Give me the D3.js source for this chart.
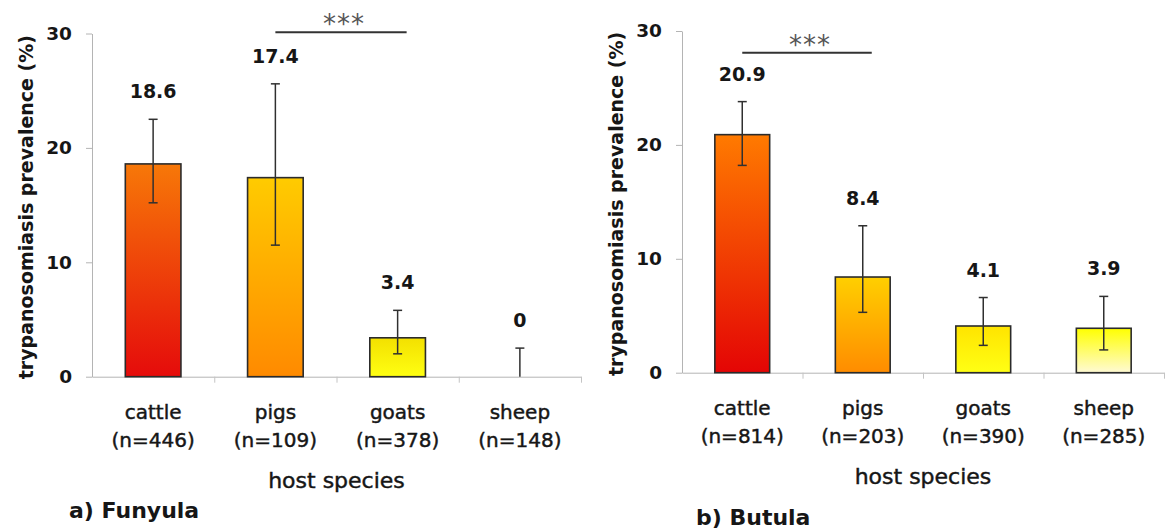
<!DOCTYPE html>
<html>
<head>
<meta charset="utf-8">
<script src="https://cdn.jsdelivr.net/npm/d3@7/dist/d3.min.js"></script>
<style>
  body { margin: 0; background: #fff; }
  svg text { font-family: "DejaVu Sans", Arial, sans-serif; fill: #161616; }
</style>
</head>
<body>
<div id="chart"></div>
<script>
// data
var categories = ["cattle", "pigs", "goats", "sheep"];
var yTicks = [0, 10, 20, 30];

var funyulaN    = [446, 109, 378, 148];
var funyulaPrev = [18.6, 17.4, 3.4, 0];
var funyulaLow  = [15.2, 11.5, 2.0, 0];
var funyulaHigh = [22.5, 25.6, 5.8, 2.5];

var butulaN    = [814, 203, 390, 285];
var butulaPrev = [20.9, 8.4, 4.1, 3.9];
var butulaLow  = [18.2, 5.3, 2.4, 2.0];
var butulaHigh = [23.8, 12.9, 6.6, 6.7];

// significance bars: between two categories, at a height in %
var funyulaSig = {from: "pigs",   to: "goats", level: 30.1, label: "***"};
var butulaSig  = {from: "cattle", to: "pigs",  level: 28.1, label: "***"};

// bar gradients (top colour, bottom colour)
var funyulaColors = [["#f77808", "#e50b0b"], ["#ffcb00", "#ff8a00"], ["#f3e000", "#ffff12"], ["#ffff00", "#fffbd8"]];
var butulaColors  = [["#ff7a00", "#e40505"], ["#ffcf00", "#ff8c00"], ["#ffe400", "#ffff14"], ["#ffff00", "#fffad4"]];

var svg = d3.select("#chart").append("svg")
      .attr("width", 1167)
      .attr("height", 530);

var defs = svg.append("defs");

function drawPanel(p) {
  var rows = categories.map(function (c, i) {
    return {cat: c, n: p.n[i], v: p.prev[i], lo: p.low[i], hi: p.high[i], col: p.colors[i]};
  });

  var x = d3.scaleBand()
      .domain(categories)
      .range([p.x0, p.x1])
      .paddingInner(0.545)
      .paddingOuter(0.2725);
  var y = d3.scaleLinear().domain([0, 30]).range([p.y0, p.y1]);
  var edges = d3.scaleLinear().domain([0, categories.length]).range([p.x0, p.x1]);

  var g = svg.append("g");

  // y axis
  var yAxis = g.append("g")
      .attr("transform", "translate(" + p.x0 + ",0)")
      .call(d3.axisLeft(y).tickValues(yTicks).tickSize(6).tickSizeOuter(0).tickPadding(14));
  yAxis.select(".domain").attr("stroke", "#b4b4b4");
  yAxis.selectAll(".tick line").attr("stroke", "#b4b4b4");
  yAxis.selectAll(".tick text")
      .attr("fill", "#161616")
      .style("font-family", "'DejaVu Sans', Arial, sans-serif")
      .style("font-size", "18.5px")
      .style("font-weight", "bold");

  // x axis with ticks at the category boundaries
  var xAxis = g.append("g")
      .attr("transform", "translate(0," + p.y0 + ")")
      .call(d3.axisBottom(edges).tickValues([1, 2, 3, 4]).tickSize(6).tickSizeOuter(0).tickFormat(""));
  xAxis.select(".domain").attr("stroke", "#b4b4b4");
  xAxis.selectAll(".tick line").attr("stroke", "#c4c4c4");

  // gradients
  rows.forEach(function (d, i) {
    var grad = defs.append("linearGradient")
        .attr("id", p.id + "-g" + i)
        .attr("x1", 0).attr("y1", 0).attr("x2", 0).attr("y2", 1);
    grad.append("stop").attr("offset", "0%").attr("stop-color", d.col[0]);
    grad.append("stop").attr("offset", "100%").attr("stop-color", d.col[1]);
  });

  // bars
  g.selectAll("rect.bar")
      .data(rows.filter(function (d) { return d.v > 0; }))
      .enter()
      .append("rect")
      .attr("class", "bar")
      .attr("x", function (d) { return x(d.cat); })
      .attr("y", function (d) { return y(d.v); })
      .attr("width", x.bandwidth())
      .attr("height", function (d) { return y(0) - y(d.v); })
      .attr("fill", function (d) { return "url(#" + p.id + "-g" + categories.indexOf(d.cat) + ")"; })
      .attr("stroke", "#2b2b2b")
      .attr("stroke-width", 1.6);

  // error bars
  var cx = function (d) { return x(d.cat) + x.bandwidth() / 2; };
  var err = g.selectAll("g.err").data(rows).enter().append("g").attr("class", "err");
  err.append("line")
      .attr("x1", cx).attr("x2", cx)
      .attr("y1", function (d) { return y(d.lo); })
      .attr("y2", function (d) { return y(d.hi); });
  err.append("line")
      .attr("x1", function (d) { return cx(d) - 4.5; }).attr("x2", function (d) { return cx(d) + 4.5; })
      .attr("y1", function (d) { return y(d.hi); })
      .attr("y2", function (d) { return y(d.hi); });
  err.filter(function (d) { return d.lo > 0; }).append("line")
      .attr("x1", function (d) { return cx(d) - 4.5; }).attr("x2", function (d) { return cx(d) + 4.5; })
      .attr("y1", function (d) { return y(d.lo); })
      .attr("y2", function (d) { return y(d.lo); });
  err.selectAll("line").attr("stroke", "#303030").attr("stroke-width", 1.5);

  // value labels
  g.selectAll("text.val")
      .data(rows)
      .enter()
      .append("text")
      .attr("class", "val")
      .attr("x", cx)
      .attr("y", function (d) { return y(d.hi) - 21; })
      .attr("text-anchor", "middle")
      .style("font-size", "19px")
      .style("font-weight", "bold")
      .text(function (d) { return d.v === 0 ? "0" : d.v.toFixed(1); });

  // category labels
  var cat = g.selectAll("text.cat")
      .data(rows)
      .enter()
      .append("text")
      .attr("class", "cat")
      .attr("text-anchor", "middle")
      .style("font-size", "20px")
      .style("stroke", "#161616")
      .style("stroke-width", "0.45px");
  cat.append("tspan")
      .attr("x", cx)
      .attr("y", p.y0 + 42)
      .text(function (d) { return d.cat; });
  cat.append("tspan")
      .attr("x", cx)
      .attr("y", p.y0 + 70)
      .text(function (d) { return "(n=" + d.n + ")"; });

  // x title
  g.append("text")
      .attr("x", (p.x0 + p.x1) / 2)
      .attr("y", p.y0 + 111)
      .attr("text-anchor", "middle")
      .style("font-size", "22px")
      .style("stroke", "#161616")
      .style("stroke-width", "0.45px")
      .text("host species");

  // y title
  g.append("text")
      .attr("transform", "translate(" + (p.x0 - 59) + "," + ((p.y0 + p.y1) / 2 + 2) + ") rotate(-90)")
      .attr("text-anchor", "middle")
      .style("font-size", "19px")
      .style("font-weight", "bold")
      .text("trypanosomiasis prevalence (%)");

  // significance
  var sx1 = x(p.sig.from) + x.bandwidth() / 2;
  var sx2 = x(p.sig.to) + x.bandwidth() / 2 + 9;
  g.append("line")
      .attr("x1", sx1).attr("x2", sx2)
      .attr("y1", y(p.sig.level)).attr("y2", y(p.sig.level))
      .attr("stroke", "#333")
      .attr("stroke-width", 2);
  g.append("text")
      .attr("x", (sx1 + sx2) / 2 + 3)
      .attr("y", y(p.sig.level) + 1)
      .attr("text-anchor", "middle")
      .style("font-size", "26px")
      .style("letter-spacing", "1px")
      .style("fill", "#555")
      .text(p.sig.label);

  // panel title
  g.append("text")
      .attr("x", p.tx)
      .attr("y", p.ty)
      .style("font-size", "22px")
      .style("font-weight", "bold")
      .text(p.title);
}

drawPanel({
  id: "fun", n: funyulaN, prev: funyulaPrev, low: funyulaLow, high: funyulaHigh,
  colors: funyulaColors, sig: funyulaSig,
  x0: 92, x1: 581, y0: 376.7, y1: 33.5,
  title: "a) Funyula", tx: 69, ty: 518
});

drawPanel({
  id: "but", n: butulaN, prev: butulaPrev, low: butulaLow, high: butulaHigh,
  colors: butulaColors, sig: butulaSig,
  x0: 682, x1: 1164, y0: 372.7, y1: 31,
  title: "b) Butula", tx: 696, ty: 525
});
</script>
</body>
</html>
